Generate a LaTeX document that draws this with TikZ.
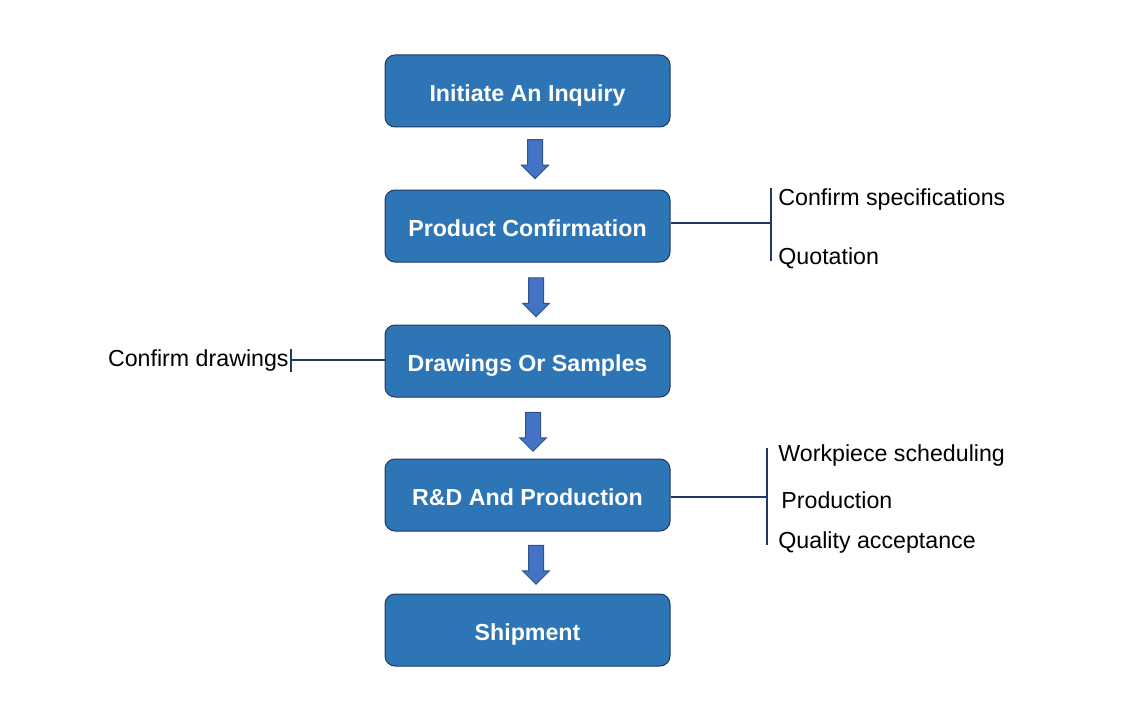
\documentclass[tikz,border=0pt]{standalone}
\usepackage{fontspec}
\setmainfont{Liberation Sans}
\usepackage{tikz}
\usetikzlibrary{arrows.meta, positioning, shapes.arrows}
\definecolor{boxblue}{HTML}{2E75B6}
\definecolor{boxedge}{HTML}{1F3864}
\definecolor{arrblue}{HTML}{4472C4}
\definecolor{arredge}{HTML}{2F528F}
\definecolor{linenavy}{HTML}{203864}

\begin{document}
\begin{tikzpicture}[
  x=0.5pt, y=-0.5pt,
  every node/.style={font=\fontsize{11.6}{14}\selectfont},
  stage/.style={draw=boxedge, line width=0.5pt, fill=boxblue, rounded corners=5pt,
                minimum width=142.5pt, minimum height=36pt, inner sep=0pt,
                text height=10.8pt, text depth=0.5pt,
                text=white, font=\fontsize{11.6}{14}\selectfont\bfseries},
  down/.style={single arrow, shape border rotate=270, draw=arredge, line width=0.5pt,
               fill=arrblue, minimum height=19.5pt, minimum width=13pt,
               single arrow head extend=3pt, single arrow head indent=0pt, inner sep=3.5pt},
  link/.style={draw=linenavy, line width=1pt},
  item/.style={inner sep=0pt, text height=8.3pt, text depth=0pt},
]
  \useasboundingbox (0,0) rectangle (1135,701);

  \node[stage] (inq)  at (527.5, 91)  {Initiate An Inquiry};
  \node[stage] (conf) at (527.5, 226) {Product Confirmation};
  \node[stage] (draw) at (527.5, 361) {Drawings Or Samples};
  \node[stage] (prod) at (527.5, 495) {R\&D And Production};
  \node[stage] (ship) at (527.5, 630) {Shipment};

  % block arrows between stages
  \node[down] (d1) at (535, 155.5) {};
  \node[down] (d2) at (536, 293.5) {};
  \node[down] (d3) at (533, 428) {};
  \node[down] (d4) at (536, 561) {};

  % product confirmation notes
  \coordinate (cb) at (771, 223);
  \draw[link] (conf.east |- cb) -- (cb);
  \draw[link] (771, 188) coordinate (cbt) -- (771, 261) coordinate (cbb);
  \node[item, anchor=west] (spec) at (778, 197) {Confirm specifications};
  \node[item, anchor=west] (quot) at (778, 256) {Quotation};

  % drawings note
  \coordinate (db) at (291, 360);
  \draw[link] (draw.west |- db) -- (db);
  \draw[link] (291, 349) coordinate (dbt) -- (291, 372) coordinate (dbb);
  \node[item, anchor=east] (cdr) at (289, 358) {Confirm drawings};

  % production notes
  \coordinate (pb) at (767, 497);
  \draw[link] (prod.east |- pb) -- (pb);
  \draw[link] (767, 448) coordinate (pbt) -- (767, 545) coordinate (pbb);
  \node[item, anchor=west] (work) at (778, 453) {Workpiece scheduling};
  \node[item, anchor=west] (pro)  at (781, 500) {Production};
  \node[item, anchor=west] (qual) at (778, 540) {Quality acceptance};
\end{tikzpicture}
\end{document}
